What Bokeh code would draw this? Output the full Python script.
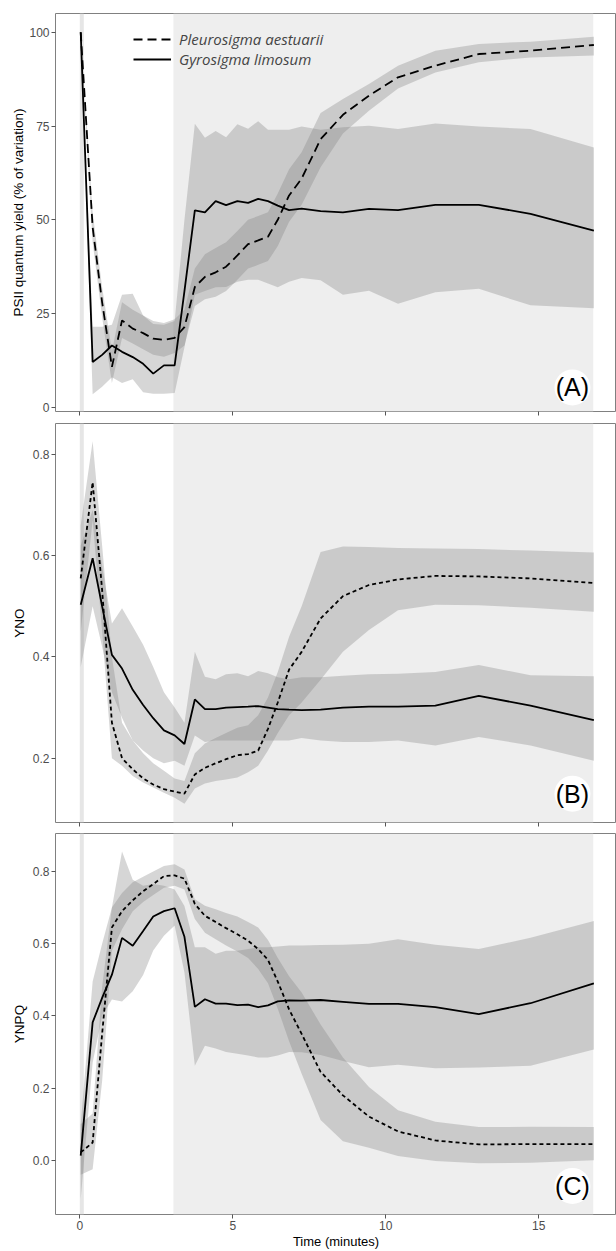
from bokeh.plotting import figure
from bokeh.layouts import column
from bokeh.models import (BoxAnnotation, FixedTicker, Range1d, Legend, LegendItem,
                          Label, NumeralTickFormatter)
from bokeh.embed import file_html
from bokeh.resources import INLINE

# ---------------- data ----------------
time_min = [0.03, 0.42, 0.73, 1.05, 1.38, 1.73, 2.07, 2.40, 2.75, 3.10, 3.42, 3.76, 4.09, 4.44,
            4.78, 5.15, 5.50, 5.83, 6.15, 6.47, 6.84, 7.25, 7.87, 8.60, 9.45, 10.40, 11.62,
            13.04, 14.73, 16.80]

# (A) PSII quantum yield (% of variation)
gyro_A = [100, 12.1, 14.0, 16.5, 14.8, 13.4, 11.6, 9.0, 11.2, 11.2, 31.0, 52.5, 52.0, 55.0,
          53.9, 55.0, 54.5, 55.6, 55.0, 53.8, 52.6, 53.0, 52.3, 52.0, 52.9, 52.6, 54.0,
          54.0, 51.6, 47.1]
gyro_A_lo = [100, 3.5, 5.5, 8.0, 6.5, 7.5, 4.0, 3.6, 3.6, 3.8, 16.0, 30.0, 31.0, 32.0,
             32.1, 33.5, 34.0, 34.0, 33.0, 32.0, 33.5, 34.5, 33.9, 30.0, 31.1, 27.6, 30.7,
             31.6, 27.2, 26.4]
gyro_A_hi = [100, 21.5, 21.5, 22.0, 30.0, 30.3, 24.5, 22.2, 22.0, 23.0, 50.0, 75.6, 71.9, 73.7,
             72.0, 75.5, 74.3, 76.3, 74.0, 74.0, 74.0, 74.9, 74.0, 74.7, 75.1, 74.2, 75.7,
             74.9, 74.2, 69.3]
pleuro_A = [100, 48.0, 28.0, 10.8, 23.2, 21.0, 19.8, 18.3, 18.0, 18.5, 21.4, 32.1, 34.8, 36.0,
            37.5, 40.5, 43.5, 44.5, 45.5, 50.0, 56.5, 61.0, 71.5, 78.0, 83.1, 88.0, 91.1,
            94.2, 95.1, 96.6]
pleuro_A_lo = [100, 44.0, 24.0, 6.5, 18.5, 17.0, 15.5, 14.0, 13.5, 14.5, 16.5, 27.0, 28.8, 29.5,
               31.0, 34.0, 37.0, 38.0, 39.0, 43.0, 49.5, 54.0, 64.0, 73.0, 79.1, 85.0, 89.3,
               92.0, 93.3, 93.8]
pleuro_A_hi = [100, 52.0, 32.0, 15.0, 28.0, 26.0, 24.5, 23.0, 22.5, 23.5, 26.0, 37.0, 40.8, 42.5,
               44.0, 47.0, 50.0, 51.0, 52.0, 57.0, 63.5, 68.0, 78.5, 82.2, 86.2, 91.1, 95.1,
               96.9, 97.5, 98.8]

# (B) YNO
gyro_B = [0.503, 0.595, 0.50, 0.404, 0.377, 0.335, 0.305, 0.279, 0.255, 0.245, 0.228, 0.316,
          0.297, 0.297, 0.300, 0.301, 0.302, 0.303, 0.300, 0.297, 0.296, 0.295, 0.296, 0.300,
          0.302, 0.302, 0.304, 0.323, 0.304, 0.275]
gyro_B_lo = [0.38, 0.50, 0.42, 0.33, 0.28, 0.235, 0.215, 0.20, 0.19, 0.195, 0.185, 0.245,
             0.232, 0.235, 0.235, 0.235, 0.235, 0.235, 0.235, 0.235, 0.235, 0.24, 0.235, 0.232,
             0.232, 0.235, 0.225, 0.242, 0.225, 0.195]
gyro_B_hi = [0.62, 0.69, 0.58, 0.466, 0.496, 0.46, 0.424, 0.38, 0.33, 0.30, 0.27, 0.41,
             0.361, 0.356, 0.366, 0.368, 0.362, 0.372, 0.368, 0.36, 0.356, 0.36, 0.36, 0.363,
             0.366, 0.367, 0.37, 0.384, 0.364, 0.362]
pleuro_B = [0.555, 0.745, 0.532, 0.27, 0.20, 0.178, 0.16, 0.148, 0.139, 0.134, 0.130, 0.168,
            0.181, 0.19, 0.198, 0.206, 0.208, 0.215, 0.258, 0.31, 0.375, 0.41, 0.476, 0.52,
            0.542, 0.553, 0.56, 0.559, 0.555, 0.546]
pleuro_B_lo = [0.45, 0.67, 0.45, 0.20, 0.185, 0.165, 0.152, 0.142, 0.132, 0.122, 0.11, 0.14,
               0.15, 0.155, 0.158, 0.162, 0.172, 0.185, 0.215, 0.25, 0.285, 0.31, 0.355, 0.41,
               0.453, 0.492, 0.503, 0.502, 0.497, 0.489]
pleuro_B_hi = [0.66, 0.826, 0.62, 0.40, 0.27, 0.235, 0.21, 0.19, 0.175, 0.16, 0.155, 0.21,
               0.229, 0.24, 0.25, 0.26, 0.265, 0.285, 0.32, 0.37, 0.44, 0.50, 0.607, 0.618,
               0.617, 0.615, 0.614, 0.613, 0.61, 0.606]

# (C) YNPQ
gyro_C = [0.013, 0.382, 0.45, 0.514, 0.616, 0.594, 0.635, 0.675, 0.69, 0.698, 0.619, 0.425,
          0.446, 0.434, 0.434, 0.43, 0.431, 0.424, 0.429, 0.44, 0.443, 0.442, 0.444, 0.439,
          0.433, 0.433, 0.424, 0.405, 0.435, 0.49]
gyro_C_lo = [-0.107, 0.27, 0.40, 0.445, 0.44, 0.468, 0.513, 0.581, 0.622, 0.65, 0.52, 0.262,
             0.317, 0.31, 0.30, 0.295, 0.29, 0.285, 0.285, 0.29, 0.30, 0.299, 0.292, 0.275,
             0.258, 0.265, 0.255, 0.257, 0.262, 0.307]
gyro_C_hi = [0.10, 0.495, 0.60, 0.70, 0.855, 0.777, 0.76, 0.765, 0.76, 0.75, 0.704, 0.59,
             0.59, 0.572, 0.58, 0.58, 0.585, 0.59, 0.59, 0.592, 0.595, 0.595, 0.596, 0.597,
             0.60, 0.612, 0.597, 0.585, 0.616, 0.663]
pleuro_C = [0.022, 0.049, 0.35, 0.645, 0.69, 0.72, 0.745, 0.765, 0.787, 0.789, 0.78, 0.71,
            0.677, 0.66, 0.643, 0.626, 0.608, 0.585, 0.555, 0.495, 0.418, 0.35, 0.245, 0.18,
            0.121, 0.08, 0.055, 0.044, 0.045, 0.045]
pleuro_C_lo = [-0.04, -0.025, 0.22, 0.58, 0.64, 0.69, 0.715, 0.735, 0.755, 0.76, 0.75, 0.668,
               0.63, 0.612, 0.595, 0.578, 0.56, 0.53, 0.49, 0.42, 0.33, 0.24, 0.112, 0.053,
               0.035, 0.012, -0.002, -0.008, -0.007, 0.0]
pleuro_C_hi = [0.10, 0.13, 0.48, 0.70, 0.74, 0.77, 0.785, 0.80, 0.815, 0.82, 0.805, 0.723,
               0.705, 0.695, 0.685, 0.675, 0.66, 0.645, 0.61, 0.56, 0.51, 0.465, 0.376, 0.285,
               0.203, 0.139, 0.107, 0.092, 0.093, 0.092]

# shaded periods (minutes)
shade_start = [0.0, 3.06]
shade_end = [0.13, 16.78]
shade_color = ["#e6e6e6", "#eeeeee"]

x_ticks = [0, 5, 10, 15]
species = ["Pleurosigma aestuarii", "Gyrosigma limosum"]

FONT = "Liberation Sans"
X_RANGE = (-0.794, 17.54)


def make_panel(h, top, bottom, y0, y1, yticks, yfmt, ylabel, lab_standoff, dash, tag, tag_y,
               p_vals, p_lo, p_hi, g_vals, g_lo, g_hi, last=False, legend=False):
    p = figure(width=616, height=h, x_range=Range1d(*X_RANGE), y_range=Range1d(y0, y1),
               output_backend="svg", toolbar_location=None,
               min_border_left=55, min_border_right=0, min_border_top=top,
               min_border_bottom=bottom)
    p.grid.visible = False
    p.outline_line_color = "#808080"
    p.outline_line_width = 1
    for s, e, c in zip(shade_start, shade_end, shade_color):
        p.add_layout(BoxAnnotation(left=s, right=e, fill_color=c, fill_alpha=1.0,
                                   line_color=None, level="underlay"))

    p.varea(x=time_min, y1=g_lo, y2=g_hi, fill_color="#808080", fill_alpha=0.32)
    p.varea(x=time_min, y1=p_lo, y2=p_hi, fill_color="#808080", fill_alpha=0.32)
    rg = p.line(time_min, g_vals, line_color="black", line_width=1.8)
    rp = p.line(time_min, p_vals, line_color="black", line_width=1.8, line_dash=dash)

    for ax in p.axis:
        ax.axis_line_color = None
        ax.major_tick_line_color = "#555555"
        ax.major_tick_out = 4
        ax.major_tick_in = 0
        ax.minor_tick_line_color = None
        ax.major_label_text_font = FONT
        ax.major_label_text_font_size = "12px"
        ax.major_label_text_color = "#4d4d4d"
        ax.major_label_standoff = 2
        ax.axis_label_text_font = FONT
        ax.axis_label_text_font_size = "13.5px"
        ax.axis_label_text_font_style = "normal"
        ax.axis_label_text_color = "black"

    p.yaxis.ticker = FixedTicker(ticks=yticks)
    if yfmt:
        p.yaxis.formatter = NumeralTickFormatter(format=yfmt)
    p.yaxis.axis_label = ylabel
    p.yaxis.axis_label_standoff = lab_standoff
    p.xaxis.ticker = FixedTicker(ticks=x_ticks)
    if last:
        p.xaxis.axis_label = "Time (minutes)"
        p.xaxis.axis_label_text_font_size = "13px"
        p.xaxis.axis_label_standoff = 1
    else:
        p.xaxis.major_label_overrides = {t: "" for t in x_ticks}
        p.xaxis.major_label_standoff = 0

    # panel tag with white disc
    p.scatter([16.1], [tag_y], size=36, fill_color="white", line_color=None)
    p.add_layout(Label(x=16.1, y=tag_y, text=tag, text_align="center",
                       text_baseline="middle", text_font=FONT, text_font_size="25px",
                       text_color="black"))

    if legend:
        lg = Legend(items=[LegendItem(label=species[0], renderers=[rp]),
                           LegendItem(label=species[1], renderers=[rg])],
                    location=(78, 342), padding=0, margin=0, spacing=0,
                    glyph_width=38, glyph_height=20, label_height=20, label_standoff=8,
                    label_text_font="Open Sans", label_text_font_style="italic",
                    label_text_font_size="15px", border_line_color=None,
                    background_fill_alpha=0)
        p.add_layout(lg)
    return p


pA = make_panel(417, 13, 6, -1.1, 105.0, [0, 25, 50, 75, 100], None,
                "PSII quantum yield (% of variation)", 0, "9 5", "(A)", 5.3,
                pleuro_A, pleuro_A_lo, pleuro_A_hi, gyro_A, gyro_A_lo, gyro_A_hi, legend=True)
pB = make_panel(410, 6, 5, 0.073, 0.861, [0.2, 0.4, 0.6, 0.8], "0.0", "YNO", 3, "4 3", "(B)",
                0.130, pleuro_B, pleuro_B_lo, pleuro_B_hi, gyro_B, gyro_B_lo, gyro_B_hi)
pC = make_panel(424, 6, 32, -0.15, 0.905, [0.0, 0.2, 0.4, 0.6, 0.8], "0.0", "YNPQ", 3, "4 3",
                "(C)", -0.071, pleuro_C, pleuro_C_lo, pleuro_C_hi, gyro_C, gyro_C_lo, gyro_C_hi,
                last=True)

layout = column(pA, pB, pC, spacing=0)
open("out.html", "w").write(file_html(layout, INLINE))
